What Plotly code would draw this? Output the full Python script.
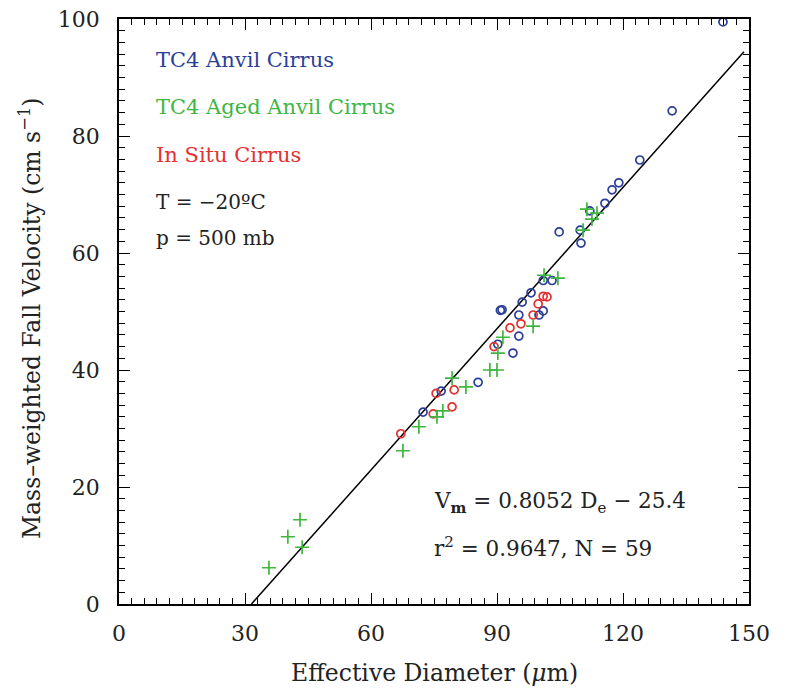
import plotly.graph_objects as go

# TC4 Anvil Cirrus (blue circles)
anvil_d = [143.8, 131.7, 124.0, 119.0, 117.4, 115.7, 112.1, 109.8, 110.0, 104.8,
           101.0, 103.1, 98.1, 96.0, 90.8, 91.2, 95.2, 101.0, 100.0, 95.2,
           90.2, 93.8, 85.5, 76.7, 72.4]
anvil_v = [99.5, 84.3, 75.9, 72.0, 70.8, 68.5, 67.2, 63.9, 61.7, 63.6,
           55.3, 55.3, 53.2, 51.6, 50.2, 50.3, 49.4, 50.1, 49.4, 45.8,
           44.4, 42.9, 37.9, 36.4, 32.8]

# TC4 Aged Anvil Cirrus (green crosses)
aged_d = [111.4, 113.8, 112.6, 110.5, 101.2, 104.5, 98.6, 91.4, 90.2, 88.3,
          90.0, 79.3, 82.6, 77.1, 75.7, 71.4, 67.6, 43.1, 40.2, 43.6, 35.7]
aged_v = [67.5, 66.8, 65.8, 63.9, 56.2, 55.7, 47.5, 45.6, 42.9, 40.0,
          40.0, 38.6, 37.1, 33.0, 32.0, 30.3, 26.2, 14.4, 11.5, 9.7, 6.2]

# In Situ Cirrus (red circles)
insitu_d = [101.0, 101.9, 99.8, 98.6, 95.7, 93.1, 89.3, 75.5, 79.8, 79.3, 74.8, 67.1]
insitu_v = [52.6, 52.5, 51.3, 49.4, 47.9, 47.2, 44.0, 36.0, 36.6, 33.7, 32.5, 29.1]

# Fit: Vm = 0.8052 De - 25.4
fit_slope = 0.8052
fit_intercept = -25.4
fit_d = [-fit_intercept / fit_slope, 148.8]
fit_v = [fit_slope * d + fit_intercept for d in fit_d]

BLUE = "#2b3f98"
GREEN = "#3fb63f"
RED = "#e2312f"
FONT = "DejaVu Serif"

fig = go.Figure()
fig.add_trace(go.Scatter(x=fit_d, y=fit_v, mode="lines",
                         line=dict(color="black", width=1.5), hoverinfo="skip"))
fig.add_trace(go.Scatter(x=anvil_d, y=anvil_v, mode="markers",
                         marker=dict(symbol="circle-open", size=8, color=BLUE,
                                     line=dict(width=1.7, color=BLUE))))
fig.add_trace(go.Scatter(x=insitu_d, y=insitu_v, mode="markers",
                         marker=dict(symbol="circle-open", size=8, color=RED,
                                     line=dict(width=1.7, color=RED))))
fig.add_trace(go.Scatter(x=aged_d, y=aged_v, mode="markers",
                         marker=dict(symbol="cross-thin-open", size=10, color=GREEN,
                                     line=dict(width=1.7, color=GREEN))))

axis_common = dict(
    showgrid=False, zeroline=False, showline=True, linecolor="black", linewidth=1.5,
    mirror="ticks", ticks="inside", ticklen=11, tickwidth=1.3, tickcolor="black",
    tickfont=dict(family=FONT, size=22, color="#222"), automargin=False,
    ticklabeloverflow="allow",
)
fig.update_xaxes(range=[0, 150], tickvals=[0, 30, 60, 90, 120, 150],
                 minor=dict(dtick=3, ticks="inside", ticklen=6, tickwidth=1.2, tickcolor="black"),
                 ticklabelstandoff=9, **axis_common)
fig.update_yaxes(range=[0, 100], tickvals=[0, 20, 40, 60, 80, 100],
                 minor=dict(dtick=2, ticks="inside", ticklen=6, tickwidth=1.2, tickcolor="black"),
                 ticklabelstandoff=13, **axis_common)

ann = []
def txt(x, y, s, color="#222", size=21, xanchor="left"):
    ann.append(dict(x=x, y=y, xref="paper", yref="paper", text=s, showarrow=False,
                    xanchor=xanchor, yanchor="middle",
                    font=dict(family=FONT, size=size, color=color)))

# plot area in page px: x 119..749, y 19..604
def px(xp):
    return (xp - 119) / 630.0
def py(yp):
    return (604 - yp) / 585.0

txt(px(154), py(60), "TC4 Anvil Cirrus", BLUE)
txt(px(154), py(107), "TC4 Aged Anvil Cirrus", GREEN)
txt(px(154), py(155), "In Situ Cirrus", RED)
txt(px(154), py(202), "T = \u221220\u00baC", size=20)
txt(px(154), py(238), "p = 500 mb", size=20)
txt(px(432), py(502), "V<sub><b>m</b></sub> = 0.8052 D<sub>e</sub> \u2212 25.4", size=21.5)
txt(px(432), py(547), "r<sup>2</sup> = 0.9647, N = 59", size=21.5)

ann.append(dict(x=0.5, y=py(673), xref="paper", yref="paper",
                text="Effective Diameter (<i>\u03bc</i>m)", showarrow=False,
                xanchor="center", yanchor="middle",
                font=dict(family=FONT, size=23.5, color="#222")))
ann.append(dict(x=px(30), y=py(318), xref="paper", yref="paper",
                text="Mass\u2013weighted Fall Velocity (cm s<sup>\u22121</sup>)", showarrow=False,
                textangle=-90, xanchor="center", yanchor="middle",
                font=dict(family=FONT, size=23.5, color="#222")))

# page has an 8px body margin, so the figure origin sits at (8, 8)
fig.update_layout(
    width=780, height=682,
    margin=dict(l=111, r=39, t=11, b=86),
    paper_bgcolor="white", plot_bgcolor="white",
    showlegend=False, annotations=ann,
)

fig.write_html("out.html")
